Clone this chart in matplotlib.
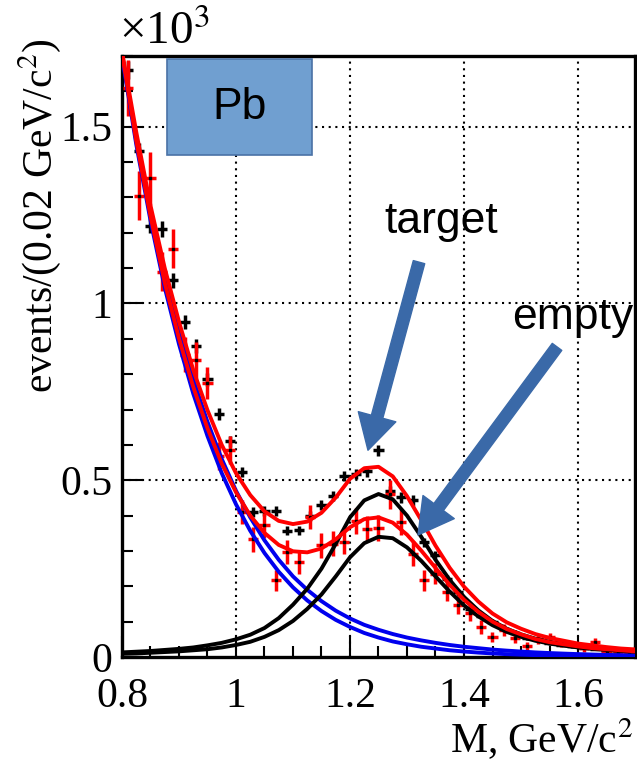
import matplotlib
matplotlib.use('Agg')
import matplotlib.pyplot as plt
from matplotlib.patches import FancyArrowPatch, Rectangle, ArrowStyle
from matplotlib.ticker import MultipleLocator, FuncFormatter

# ---------------- data ----------------
bin_centers = [0.81, 0.83, 0.85, 0.87, 0.89, 0.91, 0.93, 0.95, 0.97, 0.99,
               1.01, 1.03, 1.05, 1.07, 1.09, 1.11, 1.13, 1.15, 1.17, 1.19,
               1.21, 1.23, 1.25, 1.27, 1.29, 1.31, 1.33, 1.35, 1.37, 1.39,
               1.41, 1.43, 1.45, 1.47, 1.49, 1.51, 1.53, 1.55, 1.57, 1.59,
               1.61, 1.63, 1.65, 1.67, 1.69]
bin_half = 0.009

target_y = [1.66, 1.43, 1.22, 1.21, 1.065, 0.947, 0.88, 0.785, 0.686, 0.61,
            0.523, 0.41, 0.413, 0.412, 0.357, 0.358, 0.40, 0.43, 0.455, 0.512,
            0.518, 0.525, 0.585, 0.47, 0.452, 0.443, 0.324, 0.288, 0.22, 0.183,
            0.137, 0.117, 0.10, 0.08, 0.068, 0.055, 0.052, 0.04, 0.035, 0.03,
            0.026, 0.024, 0.02, 0.018, 0.015]
target_err = [0.025, 0.024, 0.022, 0.022, 0.02, 0.02, 0.019, 0.018, 0.017, 0.016,
              0.015, 0.014, 0.014, 0.014, 0.013, 0.013, 0.014, 0.014, 0.015, 0.015,
              0.015, 0.016, 0.016, 0.015, 0.015, 0.015, 0.013, 0.012, 0.011, 0.01,
              0.009, 0.008, 0.008, 0.007, 0.007, 0.006, 0.006, 0.005, 0.005, 0.005,
              0.004, 0.004, 0.004, 0.004, 0.004]

empty_y = [1.61, 1.305, 1.354, 1.09, 1.155, 0.855, 0.84, 0.775, 0.568, 0.586,
           0.41, 0.333, 0.373, 0.217, 0.297, 0.269, 0.396, 0.316, 0.321, 0.326,
           0.384, 0.363, 0.366, 0.46, 0.382, 0.292, 0.217, 0.236, 0.185, 0.147,
           0.125, 0.085, 0.057, 0.075, 0.055, 0.03, 0.05, 0.057, 0.038, 0.006,
           0.025, 0.043, 0.015, 0.01, 0.01]
empty_err = [0.08, 0.07, 0.075, 0.056, 0.055, 0.05, 0.05, 0.045, 0.04, 0.04,
             0.035, 0.035, 0.035, 0.03, 0.033, 0.033, 0.035, 0.035, 0.035, 0.035,
             0.037, 0.037, 0.037, 0.04, 0.037, 0.035, 0.03, 0.03, 0.028, 0.025,
             0.022, 0.02, 0.015, 0.017, 0.015, 0.012, 0.012, 0.012, 0.01, 0.008,
             0.01, 0.01, 0.008, 0.007, 0.007]

# fitted curves
curve_x = [0.800, 0.825, 0.850, 0.875, 0.900, 0.925, 0.950, 0.975, 1.000, 1.025,
           1.050, 1.075, 1.100, 1.125, 1.150, 1.175, 1.200, 1.225, 1.250, 1.275,
           1.300, 1.325, 1.350, 1.375, 1.400, 1.425, 1.450, 1.475, 1.500, 1.525,
           1.550, 1.575, 1.600, 1.625, 1.650, 1.675, 1.700]

bg_target = [1.70, 1.47, 1.26, 1.08, 0.925, 0.785, 0.665, 0.56, 0.47, 0.395,
             0.33, 0.275, 0.228, 0.19, 0.158, 0.131, 0.109, 0.091, 0.077, 0.065,
             0.055, 0.047, 0.040, 0.034, 0.029, 0.025, 0.021, 0.018, 0.0155, 0.013,
             0.0112, 0.0096, 0.0082, 0.007, 0.006, 0.0052, 0.0045]
bg_empty = [1.70, 1.45, 1.235, 1.045, 0.885, 0.745, 0.625, 0.52, 0.432, 0.357,
            0.294, 0.241, 0.197, 0.16, 0.13, 0.105, 0.085, 0.068, 0.055, 0.044,
            0.036, 0.029, 0.024, 0.019, 0.0155, 0.0125, 0.010, 0.008, 0.0065, 0.0053,
            0.0043, 0.0035, 0.0028, 0.0023, 0.0019, 0.0015, 0.0012]

sig_target = [0.013, 0.015, 0.017, 0.020, 0.023, 0.027, 0.033, 0.040, 0.050, 0.063,
              0.082, 0.110, 0.148, 0.193, 0.250, 0.320, 0.395, 0.443, 0.461, 0.446,
              0.400, 0.340, 0.275, 0.218, 0.170, 0.132, 0.102, 0.080, 0.064, 0.052,
              0.043, 0.036, 0.030, 0.026, 0.022, 0.019, 0.017]
sig_empty = [0.009, 0.010, 0.012, 0.014, 0.016, 0.019, 0.022, 0.027, 0.034, 0.043,
             0.057, 0.076, 0.102, 0.136, 0.177, 0.228, 0.282, 0.322, 0.340, 0.336,
             0.310, 0.272, 0.228, 0.185, 0.146, 0.115, 0.090, 0.071, 0.057, 0.046,
             0.038, 0.032, 0.027, 0.023, 0.020, 0.017, 0.015]

tot_target = [1.713, 1.485, 1.277, 1.100, 0.948, 0.812, 0.698, 0.600, 0.520, 0.458,
              0.412, 0.385, 0.376, 0.383, 0.408, 0.451, 0.504, 0.534, 0.538, 0.511,
              0.455, 0.387, 0.315, 0.252, 0.199, 0.157, 0.123, 0.098, 0.080, 0.065,
              0.054, 0.046, 0.038, 0.033, 0.028, 0.024, 0.0215]
tot_empty = [1.709, 1.460, 1.247, 1.059, 0.901, 0.764, 0.647, 0.547, 0.466, 0.400,
             0.351, 0.317, 0.299, 0.296, 0.307, 0.333, 0.367, 0.390, 0.395, 0.380,
             0.346, 0.301, 0.252, 0.204, 0.162, 0.128, 0.100, 0.079, 0.064, 0.051,
             0.042, 0.036, 0.030, 0.025, 0.022, 0.019, 0.016]

x_range = (0.8, 1.7)
y_range = (0.0, 1.7)
x_grid = [1.0, 1.2, 1.4, 1.6]
y_grid = [0.5, 1.0, 1.5]

# ---------------- style ----------------
plt.rcParams['font.family'] = ['Liberation Serif', 'DejaVu Serif']
plt.rcParams['mathtext.fontset'] = 'stix'
FS = 30

fig = plt.figure(figsize=(6.37, 7.64), dpi=100)
ax = fig.add_axes([122 / 637, 107 / 764, 513 / 637, 601 / 764])
ax.set_xlim(*x_range)
ax.set_ylim(*y_range)

for gx in x_grid:
    ax.axvline(gx, color='black', lw=1.5, ls=(0, (1, 2.2)), zorder=0)
for gy in y_grid:
    ax.axhline(gy, color='black', lw=1.5, ls=(0, (1, 2.2)), zorder=0)

# data points
ax.errorbar(bin_centers, target_y, yerr=target_err, xerr=bin_half, fmt='none',
            ecolor='black', elinewidth=2.5, capsize=0, zorder=3)
ax.errorbar(bin_centers, empty_y, yerr=empty_err, xerr=bin_half, fmt='none',
            ecolor='#ff0000', elinewidth=2.5, capsize=0, zorder=3)
ax.plot(bin_centers, empty_y, ls='none', marker='s', ms=2, color='black', zorder=3.5)

# curves
LW = 2.8
ax.plot(curve_x, bg_target, color='#0000ee', lw=LW, zorder=4)
ax.plot(curve_x, bg_empty, color='#0000ee', lw=LW, zorder=4)
ax.plot(curve_x, sig_target, color='black', lw=LW, zorder=4)
ax.plot(curve_x, sig_empty, color='black', lw=LW, zorder=4)
ax.plot(curve_x, tot_target, color='#ff0000', lw=LW, zorder=5)
ax.plot(curve_x, tot_empty, color='#ff0000', lw=LW, zorder=5)

# axes style
for s in ax.spines.values():
    s.set_linewidth(2.4)
ax.xaxis.set_major_locator(MultipleLocator(0.2))
ax.xaxis.set_minor_locator(MultipleLocator(0.05))
ax.yaxis.set_major_locator(MultipleLocator(0.5))
ax.yaxis.set_minor_locator(MultipleLocator(0.1))
ax.xaxis.set_major_formatter(FuncFormatter(lambda v, p: '%g' % round(v, 3)))
ax.yaxis.set_major_formatter(FuncFormatter(lambda v, p: '%g' % round(v, 3)))
ax.tick_params(which='both', direction='in', top=False, right=False, labelsize=FS,
               width=1.5)
ax.tick_params(which='major', length=15)
ax.tick_params(which='minor', length=8)
ax.tick_params(axis='x', pad=14.5)
ax.tick_params(axis='y', pad=7)

# Pb box
ax.add_patch(Rectangle((0.0877, 0.835), 0.283, 0.16, transform=ax.transAxes,
                       facecolor='#709fd0', edgecolor='#4a72a6', lw=1.2, zorder=6))
ax.text(0.0877 + 0.283 / 2, 0.835 + 0.08, 'Pb', transform=ax.transAxes,
        ha='center', va='center', fontsize=32, family='Liberation Sans', zorder=7)

# arrows and labels
arrow_col = '#3a69a8'
style = ArrowStyle('simple', head_length=25, head_width=28, tail_width=8.5)
for tail, tip in [((0.579, 0.657), (0.4795, 0.344)), ((0.848, 0.516), (0.577, 0.203))]:
    ax.add_patch(FancyArrowPatch(tail, tip, transform=ax.transAxes, arrowstyle=style,
                                 mutation_scale=1, color=arrow_col, shrinkA=0, shrinkB=0,
                                 zorder=8))
ax.text(0.622, 0.705, 'target', transform=ax.transAxes, ha='center', va='baseline',
        fontsize=32, family='Liberation Sans')
ax.text(0.878, 0.546, 'empty', transform=ax.transAxes, ha='center', va='baseline',
        fontsize=32, family='Liberation Sans')

# axis titles
fig.text(119 / 637, 1 - 44 / 764, '×10$^{3}$', ha='left', va='baseline', fontsize=34)
fig.text(40 / 637, 1 - 38 / 764, 'events/(0.02 GeV/c$^{2}$)', rotation=90,
         ha='center', va='top', fontsize=FS)
fig.text(633 / 637, 11 / 764, 'M, GeV/c$^{2}$', ha='right', va='baseline', fontsize=FS)

fig.savefig('out.png', dpi=100)
